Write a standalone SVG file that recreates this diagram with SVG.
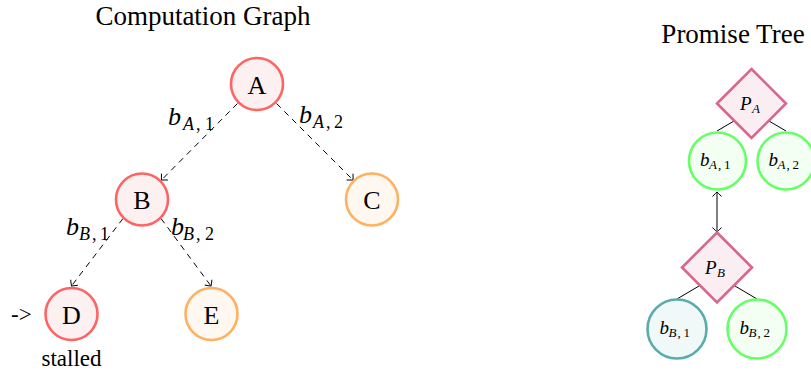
<svg xmlns="http://www.w3.org/2000/svg" width="811" height="374" viewBox="0 0 811 374">
<style>
.title{font-size:27px;text-anchor:middle}
.nl{font-size:26px;text-anchor:middle;dominant-baseline:central}
.it{font-style:italic}
.red{fill:#fdf0f0;stroke:#ff6464;stroke-width:2.6}
.org{fill:#fff8f0;stroke:#ffb060;stroke-width:2.6}
.grn{fill:#f2fff2;stroke:#66ff66;stroke-width:2.6}
.teal{fill:#f0f8f8;stroke:#5aabab;stroke-width:2.6}
.dia{fill:#fbeef3;stroke:#d9668c;stroke-width:2.6}
.dash{fill:none;stroke:#000;stroke-width:1;stroke-dasharray:6 5;marker-end:url(#to)}
.ln{fill:none;stroke:#000;stroke-width:1}
.m{font-size:26px}
.s{font-size:18px}
.pm{font-size:19px}
.ps{font-size:13px}
</style>
<defs>
<marker id="to" markerUnits="userSpaceOnUse" markerWidth="12" markerHeight="12" viewBox="-6 -6 12 12" refX="0" refY="0" orient="auto-start-reverse">
<path d="M-4.5,-4.5 Q-1,-1.2 0,0 Q-1,1.2 -4.5,4.5" fill="none" stroke="#000" stroke-width="1"/>
</marker>
</defs>
<g font-family="Liberation Serif, Times New Roman, serif">
<text class="title" x="203" y="25">Computation Graph</text>
<text class="title" x="733" y="43">Promise Tree</text>

<g id="connectors">
<line class="dash" x1="237.5" y1="103.5" x2="161.5" y2="180"/>
<line class="dash" x1="276.5" y1="103.5" x2="353" y2="180"/>
<line class="dash" x1="123" y1="218.5" x2="71.5" y2="286"/>
<line class="dash" x1="161" y1="218.5" x2="211" y2="286"/>
<line class="ln" x1="717" y1="131" x2="734" y2="121"/>
<line class="ln" x1="769" y1="121" x2="786" y2="131"/>
<line class="ln" x1="677" y1="299" x2="699" y2="286"/>
<line class="ln" x1="735" y1="286" x2="757" y2="299"/>
<line class="ln" x1="717" y1="192" x2="717" y2="232" marker-start="url(#to)" marker-end="url(#to)"/>
</g>

<g id="edge-labels">
<text x="168" y="125"><tspan class="m it">b</tspan><tspan class="s it" x="183" y="130">A</tspan><tspan class="s" x="196" y="130">,</tspan><tspan class="s" x="205" y="130">1</tspan></text>
<text x="299" y="123"><tspan class="m it">b</tspan><tspan class="s it" x="313" y="128">A</tspan><tspan class="s" x="326" y="128">,</tspan><tspan class="s" x="334" y="128">2</tspan></text>
<text x="66" y="235"><tspan class="m it">b</tspan><tspan class="s it" x="79" y="240">B</tspan><tspan class="s" x="92" y="240">,</tspan><tspan class="s" x="100" y="240">1</tspan></text>
<text x="171" y="235"><tspan class="m it">b</tspan><tspan class="s it" x="183" y="240">B</tspan><tspan class="s" x="196" y="240">,</tspan><tspan class="s" x="205" y="240">2</tspan></text>
</g>

<g id="A"><circle class="red" cx="257" cy="84" r="26"/><text class="nl" x="257" y="85">A</text></g>
<g id="B"><circle class="red" cx="142" cy="199.5" r="26"/><text class="nl" x="142" y="200.5">B</text></g>
<g id="C"><circle class="org" cx="372" cy="199.5" r="26"/><text class="nl" x="372" y="200.5">C</text></g>
<g id="D"><circle class="red" cx="71.5" cy="314" r="26"/><text class="nl" x="71.5" y="315">D</text></g>
<g id="E"><circle class="org" cx="211.5" cy="314" r="26"/><text class="nl" x="211.5" y="315">E</text></g>
<text x="11" y="322" font-size="23">-&gt;</text>
<text x="71.5" y="366" font-size="23" text-anchor="middle">stalled</text>

<g id="PA"><polygon class="dia" points="751.5,69 786,103.5 751.5,138 717,103.5"/><text x="740" y="110"><tspan class="pm it">P</tspan><tspan class="ps it" x="752" y="113">A</tspan></text></g>
<g id="bA1"><circle class="grn" cx="717.5" cy="161" r="28.5"/><text x="700" y="166"><tspan class="pm it">b</tspan><tspan class="ps it" x="709" y="169">A</tspan><tspan class="ps" x="718" y="169">,</tspan><tspan class="ps" x="724" y="169">1</tspan></text></g>
<g id="bA2"><circle class="grn" cx="786" cy="161" r="28.5"/><text x="768.5" y="166"><tspan class="pm it">b</tspan><tspan class="ps it" x="777.5" y="169">A</tspan><tspan class="ps" x="786.5" y="169">,</tspan><tspan class="ps" x="792.5" y="169">2</tspan></text></g>
<g id="PB"><polygon class="dia" points="717,232.5 752,267.5 717,302.5 682,267.5"/><text x="705" y="274"><tspan class="pm it">P</tspan><tspan class="ps it" x="717" y="277">B</tspan></text></g>
<g id="bB1"><circle class="teal" cx="677" cy="329" r="29.5"/><text x="659.5" y="334"><tspan class="pm it">b</tspan><tspan class="ps it" x="668.5" y="337">B</tspan><tspan class="ps" x="677.5" y="337">,</tspan><tspan class="ps" x="683.5" y="337">1</tspan></text></g>
<g id="bB2"><circle class="grn" cx="757" cy="329" r="29.5"/><text x="739.5" y="334"><tspan class="pm it">b</tspan><tspan class="ps it" x="748.5" y="337">B</tspan><tspan class="ps" x="757.5" y="337">,</tspan><tspan class="ps" x="763.5" y="337">2</tspan></text></g>
</g>
</svg>
